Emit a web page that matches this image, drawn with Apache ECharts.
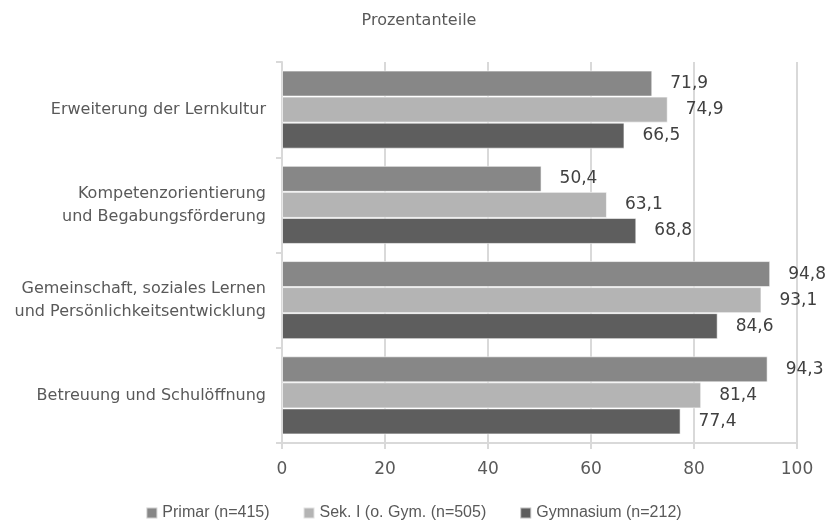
<!DOCTYPE html>
<html>
<head>
<meta charset="utf-8">
<script src="https://cdn.jsdelivr.net/npm/echarts@6/dist/echarts.min.js"></script>
<style>
  html, body { margin: 0; padding: 0; background: #fff; }
  #chart { width: 827px; height: 524px; }
</style>
</head>
<body>
<div id="chart"></div>
<script>
// Bereiche (von oben nach unten)
const categories = [
  'Erweiterung der Lernkultur',
  'Kompetenzorientierung\nund Begabungsförderung',
  'Gemeinschaft, soziales Lernen\nund Persönlichkeitsentwicklung',
  'Betreuung und Schulöffnung'
];
const seriesNames = ['Primar (n=415)', 'Sek. I (o. Gym. (n=505)', 'Gymnasium (n=212)'];
const primar = [71.9, 50.4, 94.8, 94.3];
const sekI = [74.9, 63.1, 93.1, 81.4];
const gymnasium = [66.5, 68.8, 84.6, 77.4];
const xTicks = [0, 20, 40, 60, 80, 100];

const colors = ['#878787', '#b4b4b4', '#5e5e5e'];
const textFont = '"DejaVu Sans", "Liberation Sans", sans-serif';
const legendFont = '"Liberation Sans", "Open Sans", sans-serif';

const chart = echarts.init(document.getElementById('chart'));

const fmt = v => v.toFixed(1).replace('.', ',');

function barSeries(name, data, color) {
  return {
    name: name,
    type: 'bar',
    data: data,
    barGap: '0%',
    barCategoryGap: '18%',
    itemStyle: { color: color, borderColor: 'rgba(255,255,255,0.6)', borderWidth: 1 },
    label: {
      show: true,
      position: 'right',
      distance: 18,
      color: '#404040',
      fontSize: 17,
      fontFamily: textFont,
      formatter: p => fmt(p.value)
    },
    emphasis: { disabled: true },
    animation: false
  };
}

chart.setOption({
  animation: false,
  title: {
    text: 'Prozentanteile',
    left: 414,
    textAlign: 'center',
    top: 8,
    textStyle: { color: '#595959', fontSize: 16, fontWeight: 'normal', fontFamily: textFont }
  },
  legend: {
    top: 500,
    left: 'center',
    itemWidth: 11,
    itemHeight: 11,
    itemGap: 33,
    icon: 'rect',
    textStyle: { color: '#595959', fontSize: 16, fontFamily: legendFont },
    data: seriesNames
  },
  grid: { left: 282, right: 30, top: 62, bottom: 81, containLabel: false },
  xAxis: {
    type: 'value',
    min: xTicks[0],
    max: xTicks[xTicks.length - 1],
    interval: 20,
    axisLine: { show: true, lineStyle: { color: '#d9d9d9', width: 2 } },
    axisTick: { show: true, length: 6, lineStyle: { color: '#d9d9d9', width: 2 } },
    splitLine: { show: true, lineStyle: { color: '#d9d9d9', width: 2 } },
    axisLabel: { color: '#595959', fontSize: 17, margin: 18, fontFamily: textFont }
  },
  yAxis: {
    type: 'category',
    inverse: true,
    data: categories,
    axisLine: { show: true, lineStyle: { color: '#d9d9d9', width: 2 } },
    axisTick: { show: true, length: 6, lineStyle: { color: '#d9d9d9', width: 2 } },
    axisLabel: {
      color: '#595959',
      fontSize: 16,
      lineHeight: 23,
      margin: 16,
      align: 'right',
      fontFamily: textFont
    }
  },
  series: [
    barSeries(seriesNames[0], primar, colors[0]),
    barSeries(seriesNames[1], sekI, colors[1]),
    barSeries(seriesNames[2], gymnasium, colors[2])
  ]
});
</script>
</body>
</html>
